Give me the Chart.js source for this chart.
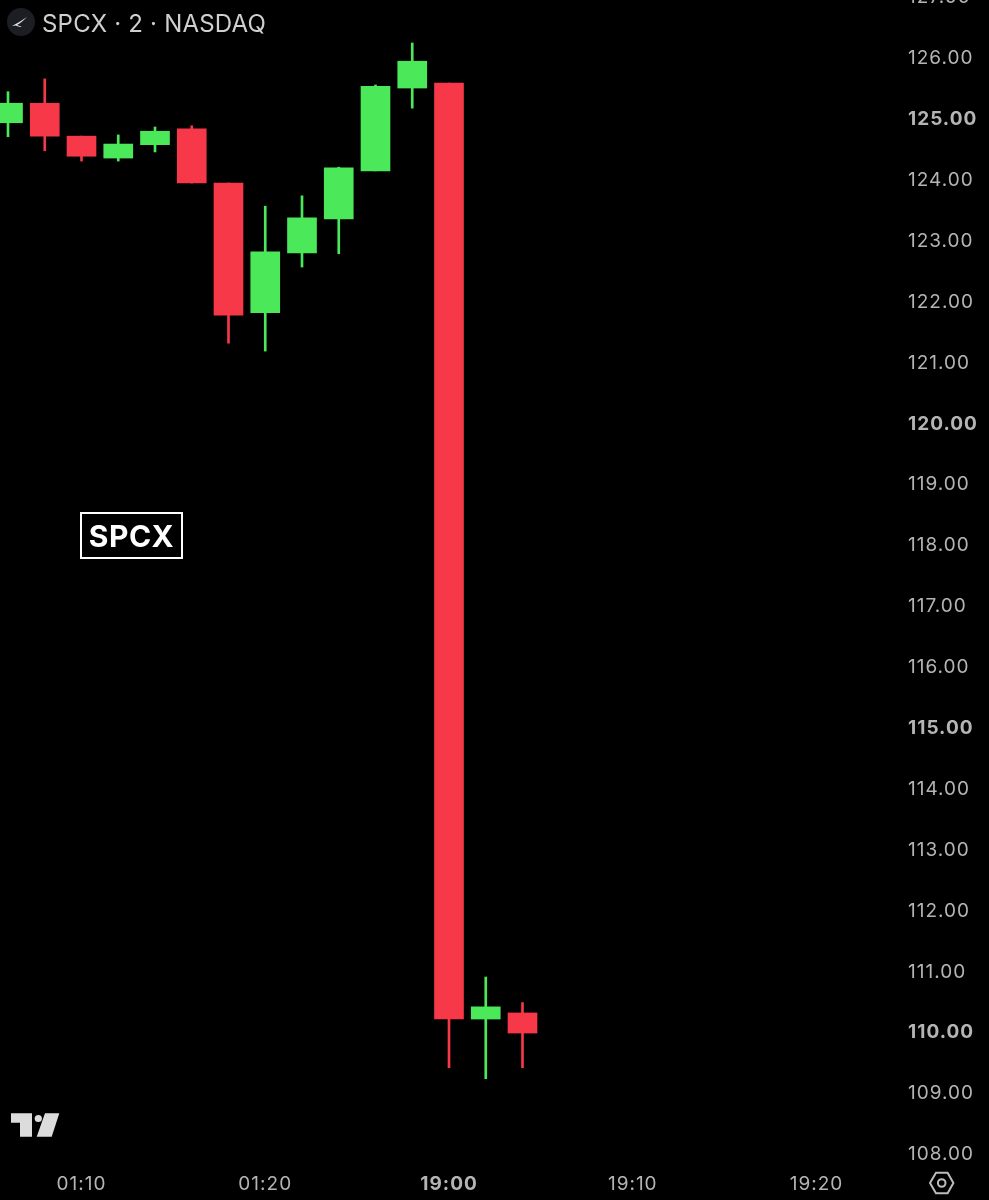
<!DOCTYPE html>
<html><head><meta charset="utf-8">
<style>
html,body{margin:0;padding:0;background:#000;width:989px;height:1200px;overflow:hidden}
#wrap{position:absolute;left:0;top:-10px;width:989px;height:1210px}
canvas{display:block}
.t{position:absolute;font-family:Inter,sans-serif;white-space:nowrap}
#title{left:42px;top:9px;font-size:24px;line-height:30px;color:#cfcfcf;letter-spacing:.2px}
#tag{left:80px;top:512px;width:99px;height:43px;border:2.5px solid #fff;color:#fff;font-size:30px;font-weight:700;line-height:45px;text-align:center;box-sizing:content-box;letter-spacing:.6px}
svg{position:absolute;left:0;top:0}
</style></head><body>
<div id="wrap"><canvas id="c" width="989" height="1210"></canvas></div>
<svg width="989" height="1200" viewBox="0 0 989 1200">
<circle cx="21" cy="22" r="14" fill="#1c1e23"/>
<path d="M12 26 Q20 22 27 17 Q21 23 17 25 L22 27 L20 27 L15.5 25.5 Z" fill="#e8e8e8"/>
<path d="M11 1113.3H32V1136.7H20V1122.7H11Z" fill="#dcdcdc"/>
<circle cx="38.3" cy="1118.5" r="3.6" fill="#dcdcdc"/>
<path d="M45 1113.3H59.3L51.7 1136.7H36.7Z" fill="#dcdcdc"/>
<path d="M930 1183L936 1172.8H947.6L953.4 1183L947.6 1193.2H936Z" fill="none" stroke="#bdbdbd" stroke-width="2"/>
<circle cx="941.7" cy="1183" r="3.8" fill="none" stroke="#bdbdbd" stroke-width="2"/>
</svg>
<div id="title" class="t">SPCX · 2 · NASDAQ</div>
<div id="tag" class="t">SPCX</div>
<script src="https://cdn.jsdelivr.net/npm/chart.js@4/dist/chart.umd.js"></script>
<script>
const opens  = [124.92,125.24,124.70,124.34,124.56,124.82,123.93,121.80,122.78,123.34,124.13,125.49,125.57,110.20,110.30];
const highs  = [125.43,125.64,124.70,124.72,124.85,124.87,123.93,123.55,123.72,124.19,125.54,126.23,125.57,110.89,110.47];
const lows   = [124.69,124.46,124.29,124.29,124.44,123.93,121.30,121.17,122.55,122.77,124.13,125.16,109.40,109.22,109.40];
const closes = [125.24,124.70,124.37,124.57,124.78,123.93,121.76,122.80,123.36,124.18,125.52,125.93,110.20,110.40,109.97];
const timeTickSlots  = [2,7,12,17,22];
const timeTickLabels = ['01:10','01:20','19:00','19:10','19:20'];
const boldTimeLabels = ['19:00'];
const priceTicks = [108,109,110,111,112,113,114,115,116,117,118,119,120,121,122,123,124,125,126,127];
const boldPrices = [110,115,120,125];

const UP='#4be85a', DOWN='#f63848', TICK='#b4b4b4';
const colorOf = i => closes[i] >= opens[i] ? UP : DOWN;
const idx = opens.map((_, i) => i);

const maskBottom = {
  id:'maskBottom',
  beforeDraw(chart){
    chart.ctx.letterSpacing='1px';
    chart.scales.y.getLabelItems(chart.chartArea).forEach(it=>{ it.options.translation[1]+=1.5; });
  },
  afterDatasetsDraw(chart){
    const c=chart.ctx, a=chart.chartArea;
    c.save(); c.fillStyle='#000';
    c.fillRect(0,a.bottom,chart.width,chart.height-a.bottom);
    c.restore();
  }
};
const noPad = s => { s.paddingTop=0; s.paddingBottom=0; s.paddingLeft=0; s.paddingRight=0; };

new Chart(document.getElementById('c'),{
  type:'bar',
  data:{datasets:[
    {label:'Wick',data:idx.map(i=>({x:i,y:[lows[i],highs[i]]})),
     backgroundColor:idx.map(colorOf),barThickness:2,grouped:false,order:2},
    {label:'Body',data:idx.map(i=>({x:i,y:[opens[i],closes[i]]})),
     backgroundColor:idx.map(colorOf),barThickness:29,grouped:false,order:1}
  ]},
  options:{
    responsive:false,animation:false,devicePixelRatio:1,
    layout:{padding:0},
    plugins:{legend:{display:false},tooltip:{enabled:false},title:{display:false}},
    scales:{
      x:{type:'linear',position:'bottom',offset:false,min:-0.2177,max:24.136,
        grid:{display:false,drawTicks:false,offset:false},border:{display:false},
        afterBuildTicks(s){s.ticks=timeTickSlots.map(v=>({value:v}));},
        afterFit(s){s.height=38;noPad(s);},
        ticks:{z:1,autoSkip:false,maxRotation:0,padding:11,color:TICK,
          callback:v=>timeTickLabels[timeTickSlots.indexOf(v)],
          font:ctx=>({family:'Inter',size:19,
            weight:boldTimeLabels.includes(timeTickLabels[timeTickSlots.indexOf(ctx.tick&&ctx.tick.value)])?'700':'400'})}
      },
      y:{type:'linear',position:'right',min:107.852,max:127.10,
        grid:{display:false,drawTicks:false},border:{display:false},
        afterBuildTicks(s){s.ticks=priceTicks.map(v=>({value:v}));},
        afterFit(s){s.width=94;noPad(s);},
        ticks:{z:0,autoSkip:false,padding:13,crossAlign:'near',color:TICK,
          callback:v=>v.toFixed(2),
          font:ctx=>({family:'Inter',size:19,
            weight:boldPrices.includes(ctx.tick&&ctx.tick.value)?'700':'400'})}
      }
    }
  },
  plugins:[maskBottom]
});
</script>
</body></html>
